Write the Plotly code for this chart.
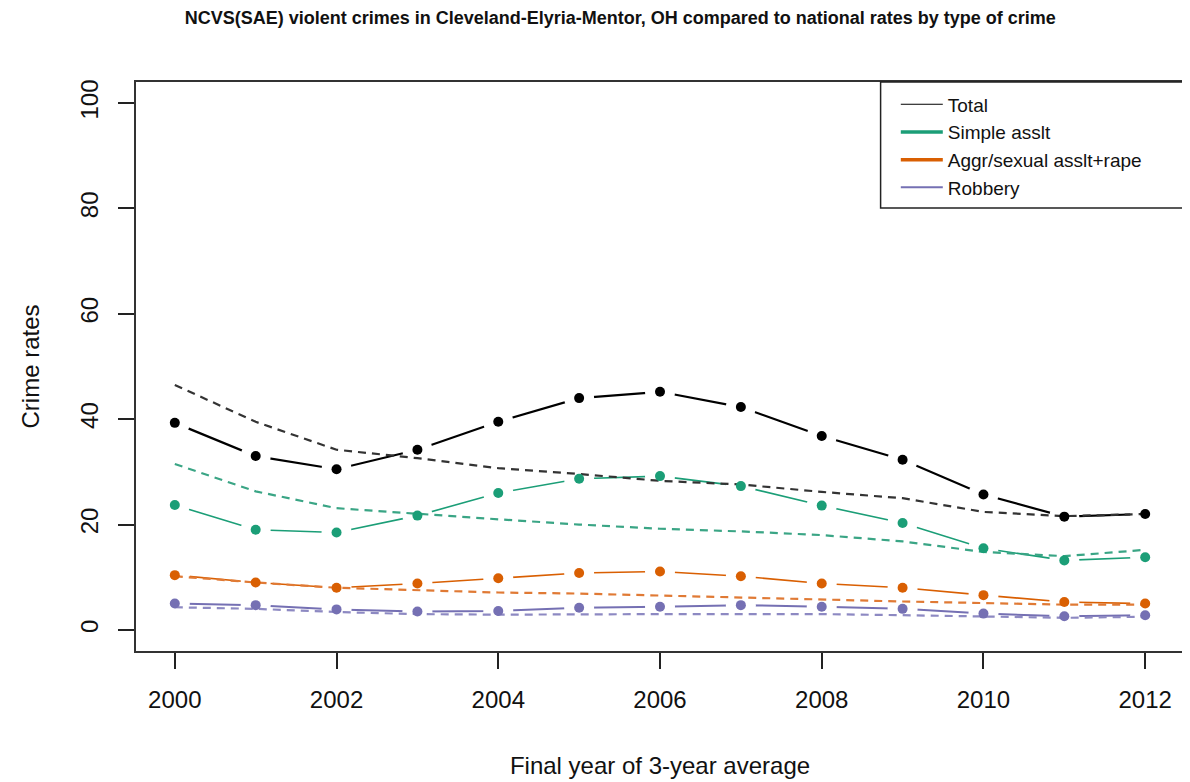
import plotly.graph_objects as go

years = list(range(2000, 2013))

total_local = [39.3, 33.0, 30.5, 34.2, 39.5, 44.0, 45.2, 42.3, 36.8, 32.3, 25.7, 21.5, 22.0]
total_nat = [46.5, 39.5, 34.2, 32.6, 30.7, 29.6, 28.3, 27.6, 26.2, 25.0, 22.4, 21.6, 22.0]
simple_local = [23.7, 19.0, 18.5, 21.7, 26.0, 28.7, 29.2, 27.3, 23.6, 20.3, 15.5, 13.2, 13.8]
simple_nat = [31.5, 26.3, 23.1, 22.0, 21.0, 20.0, 19.2, 18.7, 18.0, 16.8, 14.8, 14.0, 15.2]
aggr_local = [10.4, 9.0, 8.0, 8.8, 9.8, 10.8, 11.1, 10.2, 8.8, 8.0, 6.6, 5.3, 5.0]
aggr_nat = [10.2, 9.0, 8.0, 7.6, 7.1, 6.9, 6.5, 6.1, 5.7, 5.4, 5.1, 4.8, 4.8]
robbery_local = [5.0, 4.7, 3.9, 3.5, 3.6, 4.2, 4.4, 4.7, 4.4, 4.0, 3.1, 2.6, 2.8]
robbery_nat = [4.3, 4.0, 3.4, 3.0, 2.9, 3.0, 3.0, 3.0, 3.0, 2.8, 2.5, 2.3, 2.5]

names = ["Total", "Simple asslt", "Aggr/sexual asslt+rape", "Robbery"]
locals_ = [total_local, simple_local, aggr_local, robbery_local]
nationals = [total_nat, simple_nat, aggr_nat, robbery_nat]
colors = ["#000000", "#1B9E77", "#D95F02", "#7570B3"]
nat_colors = ["#333333", "#3aa585", "#e07a35", "#8d89c2"]
local_widths = [2.2, 1.6, 1.6, 2.0]
legend_widths = [1, 3.5, 3.5, 2]

fig = go.Figure()

# local lines (solid) with white disks at the points to leave gaps (R type="b")
for loc, col, w in zip(locals_, colors, local_widths):
    fig.add_trace(go.Scatter(x=years, y=loc, mode="lines+markers", line=dict(color=col, width=w),
                             marker=dict(size=30, color="#ffffff", opacity=1, line=dict(width=0)),
                             showlegend=False, hoverinfo="skip"))
# national dashed lines
for nat, col in zip(nationals, nat_colors):
    fig.add_trace(go.Scatter(x=years, y=nat, mode="lines",
                             line=dict(color=col, width=2.2, dash="8px,6px"),
                             showlegend=False, hoverinfo="skip"))
# local points
for loc, col in zip(locals_, colors):
    fig.add_trace(go.Scatter(x=years, y=loc, mode="markers",
                             marker=dict(size=10, color=col),
                             showlegend=False))
# legend entries
for name, col, w in zip(names, colors, legend_widths):
    fig.add_trace(go.Scatter(x=[None], y=[None], mode="lines", name=name,
                             line=dict(color=col, width=w), showlegend=True))

font_family = "Liberation Sans, Arial, Helvetica, sans-serif"

fig.update_layout(
    width=1182, height=774,
    margin=dict(l=128, r=4, t=74, b=131),
    paper_bgcolor="white", plot_bgcolor="white",
    font=dict(family=font_family, color="#111111"),
    title=dict(text="<b>NCVS(SAE) violent crimes in Cleveland-Elyria-Mentor, OH compared to national rates by type of crime</b>",
               x=0.518, xanchor="center", y=0.988, yanchor="middle",
               font=dict(size=18, family=font_family, color="#111111")),
    legend=dict(x=0.725, y=0.994, xanchor="left", yanchor="top",
                borderwidth=0, bgcolor="rgba(0,0,0,0)",
                font=dict(size=19, family=font_family, color="#111111"),
                tracegroupgap=0, itemwidth=42),
    showlegend=True,
    shapes=[dict(type="rect", xref="paper", yref="paper", x0=0.7105, x1=1, y0=0.7786, y1=1,
                 line=dict(color="#222222", width=1.5), fillcolor="rgba(0,0,0,0)", layer="above")],
)

fig.update_xaxes(
    range=[1999.52, 2012.48], tickmode="array", tickvals=list(range(2000, 2013, 2)),
    ticks="outside", ticklen=16, tickwidth=1.5, tickcolor="#222222",
    showgrid=False, zeroline=False, showline=True, linecolor="#333333", linewidth=2, mirror=True,
    tickfont=dict(size=24), ticklabelstandoff=10,
    title=dict(text="Final year of 3-year average", font=dict(size=24), standoff=45),
)
fig.update_yaxes(
    range=[-4, 104], tickmode="array", tickvals=[0, 20, 40, 60, 80, 100],
    ticks="outside", ticklen=16, tickwidth=1.5, tickcolor="#222222", tickangle=-90,
    showgrid=False, zeroline=False, showline=True, linecolor="#333333", linewidth=2, mirror=True,
    tickfont=dict(size=24), ticklabelstandoff=10,
    title=dict(text="Crime rates", font=dict(size=24), standoff=30),
)

fig.write_html("out.html")
